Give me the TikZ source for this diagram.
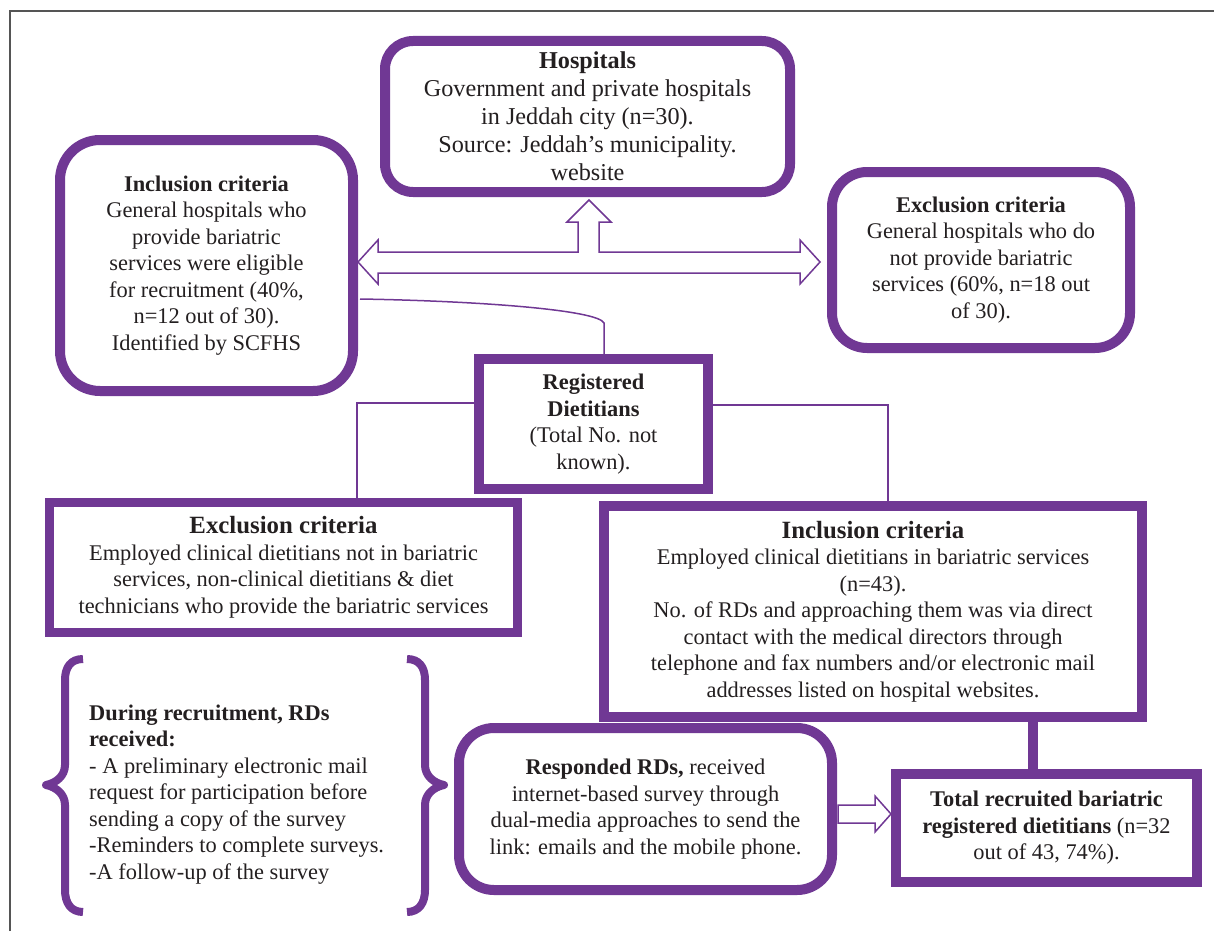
\documentclass[tikz,border=0pt]{standalone}
\usepackage{fontspec}
\setmainfont{Liberation Serif}
\usetikzlibrary{calc,backgrounds}
\definecolor{pur}{RGB}{112,56,148}
\definecolor{txt}{RGB}{35,31,32}
\definecolor{frm}{RGB}{85,85,85}
\newcommand\fbody{\fontsize{22.4}{26.5}\selectfont}
\newcommand\fhosp{\fontsize{24.2}{28}\selectfont}
\newcommand\fhead{\fontsize{24.8}{27}\selectfont}
\begin{document}
\begin{tikzpicture}[x=1pt,y=-1pt,
  boxbase/.style={draw=pur, fill=white, line width=10pt, align=center, text=txt, inner sep=0pt, font=\fbody},
  rbox/.style={boxbase, rounded corners=#1},
  sbox/.style={boxbase},
  thin/.style={draw=pur, line width=1.5pt},
  hollow/.style={draw=pur, fill=white, line width=1.5pt, line join=miter},
  brace/.style={draw=pur, line width=8pt, line cap=butt, line join=round}]
\useasboundingbox (0,0) rectangle (1214,931);

\node[rbox=28pt, minimum width=405pt, minimum height=151pt, font=\fhosp] (hosp) at (587.5,116.5)
  {\textbf{Hospitals}\\Government and private hospitals\\in Jeddah city (n=30).\\Source: Jeddah’s municipality.\\website};
\node[rbox=40pt, minimum width=293pt, minimum height=251pt] (incl1) at (206.5,265.5)
  {\textbf{Inclusion criteria}\\General hospitals who\\provide bariatric\\services were eligible\\for recruitment (40\%,\\n=12 out of 30).\\Identified by SCFHS};
\node[rbox=35pt, minimum width=298pt, minimum height=176pt] (excl1) at (981,260)
  {\textbf{Exclusion criteria}\\General hospitals who do\\not provide bariatric\\services (60\%, n=18 out\\of 30).};
\node[sbox, minimum width=229pt, minimum height=130pt] (reg) at (593.5,424)
  {\textbf{Registered}\\\textbf{Dietitians}\\(Total No. not\\known).};
\node[sbox, line width=9pt, minimum width=468pt, minimum height=130pt] (excl2) at (283.5,567.5)
  {{\fhead\textbf{Exclusion criteria}}\\Employed clinical dietitians not in bariatric\\services, non-clinical dietitians \& diet\\technicians who provide the bariatric services};
\node[sbox, minimum width=538pt, minimum height=211pt] (incl2) at (873,611.5)
  {{\fhead\textbf{Inclusion criteria}}\\Employed clinical dietitians in bariatric services\\(n=43).\\No. of RDs and approaching them was via direct\\contact with the medical directors through\\telephone and fax numbers and/or electronic mail\\addresses listed on hospital websites.};
\node[rbox=35pt, minimum width=373pt, minimum height=162pt] (resp) at (645.5,809)
  {\textbf{Responded RDs,} received\\internet-based survey through\\dual-media approaches to send the\\link: emails and the mobile phone.};
\node[sbox, minimum width=301pt, minimum height=108pt] (total) at (1046.5,828)
  {\textbf{Total recruited bariatric}\\\textbf{registered dietitians} (n=32\\out of 43, 74\%).};
\node[align=left, anchor=west, text=txt, font=\fbody, inner sep=0pt] (rec) at (89,794.5)
  {\textbf{During recruitment, RDs}\\\textbf{received:}\\- A preliminary electronic mail\\request for participation before\\sending a copy of the survey\\-Reminders to complete surveys.\\-A follow-up of the survey};

\coordinate (lx) at (357,403);
\coordinate (rx) at (888,405);
\coordinate (tx) at (1033,0);
\coordinate (cs) at (360,299);
\coordinate (ce) at (604,323);

\begin{pgfonlayer}{background}
  \draw[frm, line width=1.5pt] (10,931) -- (10,11) -- (1214,11);
  \draw[thin] (cs) .. controls (480,301) and (598,310) .. (ce) -- (ce |- reg.north);
  \draw[thin] (reg.west |- lx) -- (lx) -- (lx |- excl2.north);
  \draw[thin] (reg.east |- rx) -- (rx) -- (rx |- incl2.north);
  \draw[pur, line width=10pt] (tx |- incl2.south) -- (tx |- total.north);
\end{pgfonlayer}

% T-shaped hollow double arrow
\draw[hollow] (358,262) -- (378,240) -- (378,252) -- (578,252) -- (578,222) -- (567,222)
  -- (589,200) -- (611,222) -- (599,222) -- (599,252) -- (800,252) -- (800,240)
  -- (820,262) -- (800,284) -- (800,273) -- (378,273) -- (378,284) -- cycle;
% hollow arrow responded -> total
\draw[hollow] (838,805) -- (875,805) -- (875,796) -- (891,814) -- (875,832) -- (875,823) -- (838,823) -- cycle;

% braces
\draw[brace] (83,659) .. controls (71,659) and (65,667) .. (65,680) -- (65,765)
  .. controls (65,776) and (56,783) .. (46,785)
  .. controls (56,787) and (65,794) .. (65,805) -- (65,890)
  .. controls (65,903) and (71,912) .. (83,912);
\draw[brace] (407,659) .. controls (419,659) and (425,667) .. (425,680) -- (425,765)
  .. controls (425,776) and (434,783) .. (444,785)
  .. controls (434,787) and (425,794) .. (425,805) -- (425,890)
  .. controls (425,903) and (419,912) .. (407,912);
\end{tikzpicture}
\end{document}
